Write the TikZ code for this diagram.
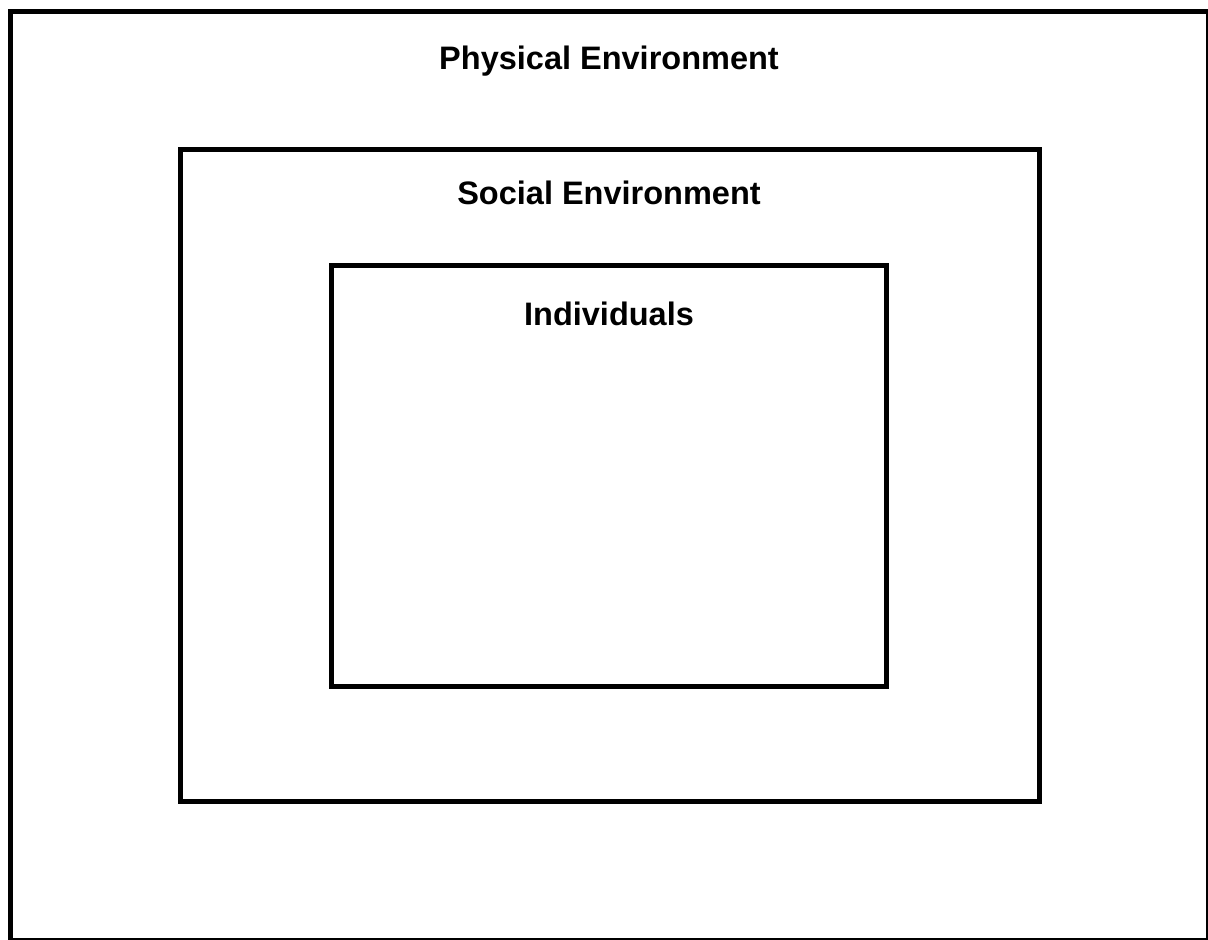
\documentclass[tikz,border=0pt]{standalone}
\usepackage{fontspec}
\setmainfont{Liberation Sans}
\begin{document}
\begin{tikzpicture}[x=1pt,y=-1pt,
  frame/.style={draw=black, line width=5pt, rectangle, inner sep=0pt, outer sep=0pt, anchor=north west},
  title/.style={font=\fontsize{32.5}{38}\selectfont\bfseries, anchor=base, inner sep=0pt}]
  \useasboundingbox (0,0) rectangle (1208,940);
  % nested environment frames (the outer one runs off the right and bottom edges)
  \node[frame, minimum width=1198.5pt, minimum height=929pt] (physical) at (10,11) {};
  \node[frame, minimum width=859pt, minimum height=652pt] (social) at (180,149) {};
  \node[frame, minimum width=555pt, minimum height=421pt] (individuals) at (331,265) {};
  % frame titles
  \node[title] (physlabel) at (609,69) {Physical Environment};
  \node[title] (soclabel) at (609,204) {Social Environment};
  \node[title] (indlabel) at (609,325) {Individuals};
\end{tikzpicture}
\end{document}
